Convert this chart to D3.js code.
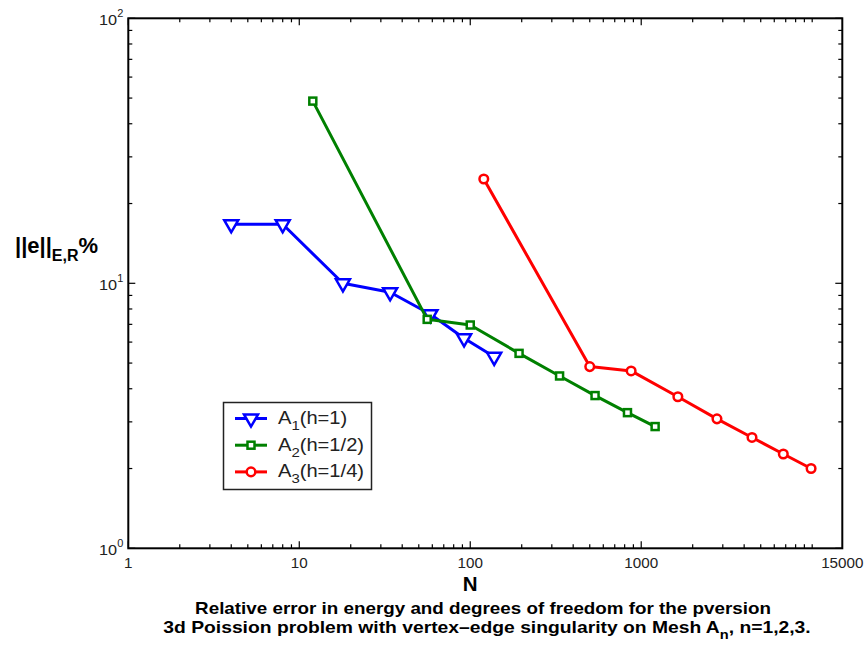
<!DOCTYPE html>
<html><head><meta charset="utf-8">
<script src="https://cdn.jsdelivr.net/npm/d3@7"></script>
<style>body{margin:0;background:#fff}svg{display:block}text{font-family:"Liberation Sans",Arial,Helvetica,sans-serif}</style>
</head><body>
<script>
const seriesNames = ["A1","A2","A3"];
const legendMain = ["A","A","A"];
const legendSub = ["1","2","3"];
const legendRest = ["(h=1)","(h=1/2)","(h=1/4)"];
const colors = ["#0000ff","#008000","#ff0000"];
const a1N = [4, 8, 18, 34, 58.5, 92, 138];
const a1E = [16.7, 16.7, 10.0, 9.25, 7.64, 6.2, 5.28];
const a2N = [12, 56, 100, 193, 333, 537, 831, 1206];
const a2E = [48.7, 7.31, 6.96, 5.44, 4.47, 3.77, 3.25, 2.88];
const a3N = [120, 500, 873, 1638, 2773, 4446, 6777, 9851];
const a3E = [24.75, 4.85, 4.67, 3.73, 3.08, 2.62, 2.27, 2.0];
const xMajorTicks = [1, 10, 100, 1000, 15000];
const xTickLabels = ["1", "10", "100", "1000", "15000"];
const yMajorTicks = [1, 10, 100];
const yTickExp = ["0", "1", "2"];

const W = 868, H = 648;
const L = 128.3, R = 842.3, T = 18.3, B = 548.3;
const svg = d3.select("body").append("svg").attr("width", W).attr("height", H);
const x = d3.scaleLog().domain([1, 15000]).range([L, R]);
const y = d3.scaleLog().domain([1, 100]).range([B, T]);

const xMinor = [];
for (let d = 1; d <= 1000; d *= 10) for (let k = 2; k <= 10; k++) { const v = d * k; if (v < 15000 && ![10,100,1000].includes(v)) xMinor.push(v); }
const yMinor = [];
for (let d = 1; d <= 10; d *= 10) for (let k = 2; k <= 9; k++) yMinor.push(d * k);

const g = svg.append("g");
const tk = g.append("g").attr("stroke", "#000").attr("stroke-width", 1.2);
[1,10,100,1000].forEach(v => {
  tk.append("line").attr("x1", x(v)).attr("x2", x(v)).attr("y1", B).attr("y2", B - 7);
  tk.append("line").attr("x1", x(v)).attr("x2", x(v)).attr("y1", T).attr("y2", T + 7);
});
xMinor.forEach(v => {
  tk.append("line").attr("x1", x(v)).attr("x2", x(v)).attr("y1", B).attr("y2", B - 4);
  tk.append("line").attr("x1", x(v)).attr("x2", x(v)).attr("y1", T).attr("y2", T + 4);
});
yMajorTicks.forEach(v => {
  tk.append("line").attr("x1", L).attr("x2", L + 7).attr("y1", y(v)).attr("y2", y(v));
  tk.append("line").attr("x1", R).attr("x2", R - 7).attr("y1", y(v)).attr("y2", y(v));
});
yMinor.forEach(v => {
  tk.append("line").attr("x1", L).attr("x2", L + 4).attr("y1", y(v)).attr("y2", y(v));
  tk.append("line").attr("x1", R).attr("x2", R - 4).attr("y1", y(v)).attr("y2", y(v));
});

g.append("rect").attr("x", L).attr("y", T).attr("width", R - L).attr("height", B - T)
  .attr("fill", "none").attr("stroke", "#000").attr("stroke-width", 2);

xMajorTicks.forEach((v, i) => {
  g.append("text").attr("transform", `translate(${x(v)},${B + 20}) scale(1.05,1)`).attr("text-anchor", "middle")
    .attr("font-size", 14.5).attr("fill", "#222").text(xTickLabels[i]);
});
yMajorTicks.forEach((v, i) => {
  const t = g.append("text").attr("transform", `translate(${L - 5},${y(v) + 7}) scale(1.05,1)`).attr("text-anchor", "end")
    .attr("font-size", 15.5).attr("fill", "#222");
  t.append("tspan").text("10");
  t.append("tspan").attr("dy", -8).attr("font-size", 10.5).text(yTickExp[i]);
});

g.append("text").attr("x", x(100)).attr("y", 591).attr("text-anchor", "middle")
  .attr("font-size", 20.5).attr("font-weight", "bold").text("N");
const yl = g.append("text").attr("x", 15).attr("y", 253).attr("font-size", 22).attr("font-weight", "bold");
yl.append("tspan").text("||e||");
yl.append("tspan").attr("dy", 8).attr("font-size", 16).text("E,R");
yl.append("tspan").attr("dy", -8).text("%");

g.append("text").attr("transform", "translate(483,614) scale(1.14,1)").attr("text-anchor", "middle")
  .attr("font-size", 16.5).attr("font-weight", "bold").text("Relative error in energy and degrees of freedom for the pversion");
const c2 = g.append("text").attr("transform", "translate(487,633) scale(1.17,1)").attr("text-anchor", "middle")
  .attr("font-size", 16.5).attr("font-weight", "bold");
c2.append("tspan").text("3d Poission problem with vertex\u2013edge singularity on Mesh A");
c2.append("tspan").attr("dy", 6).attr("font-size", 12.5).text("n");
c2.append("tspan").attr("dy", -6).text(", n=1,2,3.");

const tri = d3.symbol().type(d3.symbolTriangle).size(85);
function marker(sel, type, color) {
  if (type === 0) {
    sel.append("path").attr("d", tri()).attr("transform", "rotate(180)")
      .attr("fill", "#fff").attr("stroke", color).attr("stroke-width", 2.5);
  } else if (type === 1) {
    sel.append("rect").attr("x", -3.5).attr("y", -3.5).attr("width", 7).attr("height", 7)
      .attr("fill", "#fff").attr("stroke", color).attr("stroke-width", 2.5);
  } else {
    sel.append("circle").attr("r", 4.3).attr("fill", "#fff").attr("stroke", color).attr("stroke-width", 2.5);
  }
}

const series = [[a1N, a1E], [a2N, a2E], [a3N, a3E]];
const line = d3.line().x(d => x(d[0])).y(d => y(d[1]));
series.forEach((s, i) => {
  const pts = s[0].map((n, j) => [n, s[1][j]]);
  g.append("path").datum(pts).attr("d", line).attr("fill", "none")
    .attr("stroke", colors[i]).attr("stroke-width", 3).attr("stroke-linejoin", "round");
  pts.forEach(p => {
    const m = g.append("g").attr("transform", `translate(${x(p[0])},${y(p[1])})`);
    marker(m, i, colors[i]);
  });
});

const lg = g.append("g");
lg.append("rect").attr("x", 223.5).attr("y", 402.5).attr("width", 148).attr("height", 87)
  .attr("fill", "#fff").attr("stroke", "#222").attr("stroke-width", 1.5);
seriesNames.forEach((nm, i) => {
  const yy = 418.5 + i * 26.7;
  lg.append("line").attr("x1", 235).attr("x2", 267).attr("y1", yy).attr("y2", yy)
    .attr("stroke", colors[i]).attr("stroke-width", 3);
  const m = lg.append("g").attr("transform", `translate(251,${yy})`);
  marker(m, i, colors[i]);
  const t = lg.append("text").attr("transform", `translate(278,${yy + 5.5}) scale(1.15,1)`).attr("font-size", 17.5).attr("fill", "#222");
  t.append("tspan").text(legendMain[i]);
  t.append("tspan").attr("dy", 6).attr("font-size", 13).text(legendSub[i]);
  t.append("tspan").attr("dy", -6).text(legendRest[i]);
});
</script>
</body></html>
